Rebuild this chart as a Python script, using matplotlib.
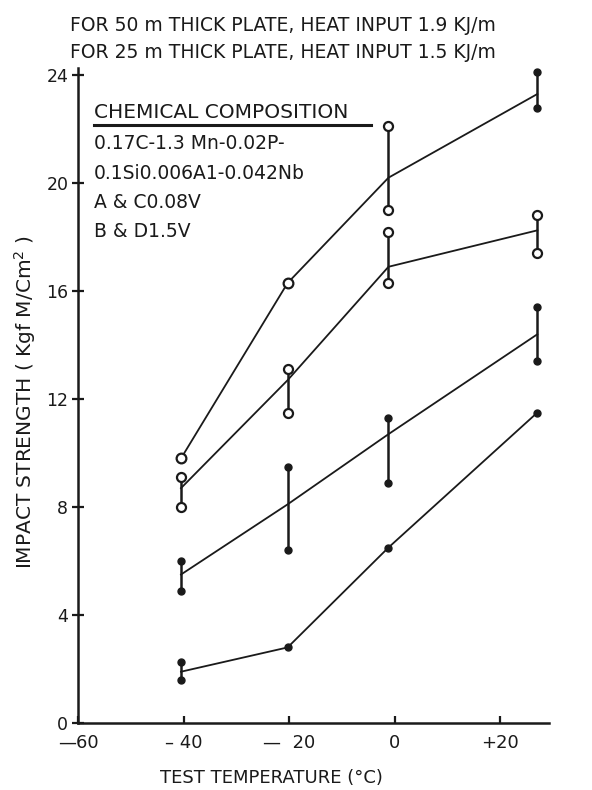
import matplotlib.pyplot as plt

# test temperatures (deg C) at which the specimens were broken
temps = [-40.5, -20.3, -1.2, 27.0]

# mean values joined by the curves (Kgf M/Cm2)
mean_a = [9.8, 16.3, 20.2, 23.3]
mean_b = [8.7, 12.7, 16.9, 18.25]
mean_c = [5.5, 8.1, 10.7, 14.4]
mean_d = [1.9, 2.8, 6.5, 11.5]

# scatter band (low, high) at each temperature, None where only one value
band_a = [None, None, (19.0, 22.1), (22.8, 24.1)]
band_b = [(8.0, 9.1), (11.5, 13.1), (16.3, 18.2), (17.4, 18.8)]
band_c = [(4.9, 6.0), (6.4, 9.5), (8.9, 11.3), (13.4, 15.4)]
band_d = [(1.6, 2.25), None, None, None]

# open circle or filled dot for the band ends
ends_a = ['o', 'o', 'o', 'f']
ends_b = ['o', 'o', 'o', 'o']
ends_c = ['f', 'f', 'f', 'f']
ends_d = ['f', 'f', 'f', 'f']

xticks = [-60, -40, -20, 0, 20]
xticklabels = ['\u201460', '\u2013 40', '\u2014  20', '0', '+20']
yticks = [0, 4, 8, 12, 16, 20, 24]

composition = ['0.17C-1.3 Mn-0.02P-', '0.1Si0.006A1-0.042Nb',
               'A & C0.08V', 'B & D1.5V']

ink = '#1a1a1a'
plt.rcParams['font.family'] = 'DejaVu Sans'

fig = plt.figure(figsize=(5.92, 7.9), dpi=100)
ax = fig.add_axes([0.1318, 0.0848, 0.7955, 0.829])


def draw_marker(x, y, kind, single=False):
    if kind == 'o':
        ax.plot(x, y, 'o', ms=7 if single else 6.5, mfc='white', mec=ink, mew=1.6, zorder=4)
    else:
        ax.plot(x, y, 'o', ms=5, color=ink, zorder=4)


for means, bands, ends in [(mean_a, band_a, ends_a), (mean_b, band_b, ends_b),
                           (mean_c, band_c, ends_c), (mean_d, band_d, ends_d)]:
    ax.plot(temps, means, color=ink, lw=1.3, zorder=3)
    for t, m, b, e in zip(temps, means, bands, ends):
        if b is None:
            draw_marker(t, m, e, single=True)
        else:
            ax.plot([t, t], b, color=ink, lw=1.8, zorder=3)
            draw_marker(t, b[0], e)
            draw_marker(t, b[1], e)

ax.set_xlim(-60, 29.2)
ax.set_ylim(0, 24.26)
ax.spines['top'].set_visible(False)
ax.spines['right'].set_visible(False)
for s in ['left', 'bottom']:
    ax.spines[s].set_linewidth(1.8)
    ax.spines[s].set_color(ink)

ax.set_xticks(xticks)
ax.set_xticklabels(xticklabels)
ax.set_yticks(yticks)
ax.tick_params(axis='x', direction='in', length=5, width=1.6, colors=ink,
               labelsize=13, pad=8)
ax.tick_params(axis='y', direction='inout', length=8, width=1.6, colors=ink,
               labelsize=12.5, pad=3)

ax.set_xlabel('TEST TEMPERATURE (\u00b0C)', fontsize=13, color=ink)
ax.xaxis.set_label_coords(0.41, -0.07)
ax.set_ylabel('IMPACT STRENGTH ( Kgf M/Cm$^2$ )', fontsize=14.5, color=ink)
ax.yaxis.set_label_coords(-0.085, 0.49)

fig.text(0.118, 0.968, 'FOR 50 m THICK PLATE, HEAT INPUT 1.9 KJ/m',
         fontsize=13.5, color=ink, va='center')
fig.text(0.118, 0.934, 'FOR 25 m THICK PLATE, HEAT INPUT 1.5 KJ/m',
         fontsize=13.5, color=ink, va='center')

ax.text(-57, 22.6, 'CHEMICAL COMPOSITION', fontsize=14.5, color=ink, va='center')
ax.plot([-57, -4.5], [22.15, 22.15], color=ink, lw=2.2)
for i, line in enumerate(composition):
    ax.text(-57, 21.45 - i * 1.08, line, fontsize=13.5, color=ink, va='center')

fig.savefig('out.png', dpi=100, facecolor='white')
